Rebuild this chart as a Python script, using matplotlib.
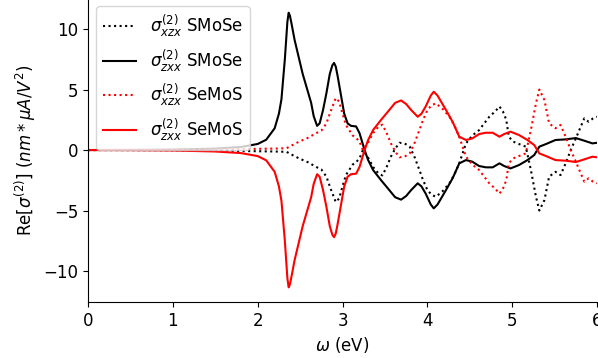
import matplotlib
matplotlib.use('Agg')
import matplotlib.pyplot as plt

# photon energy grids (eV)
x_zxx = [0.0, 0.5, 1.0, 1.5, 1.8, 2.0, 2.1, 2.2, 2.25, 2.28, 2.32, 2.35, 2.365, 2.38,
         2.40, 2.435, 2.53, 2.63, 2.66, 2.70, 2.73, 2.77, 2.81, 2.85, 2.88, 2.90,
         2.92, 2.94, 2.965, 3.02, 3.06, 3.10, 3.16, 3.20, 3.26, 3.30, 3.36, 3.455,
         3.55, 3.62, 3.69, 3.75, 3.81, 3.886, 3.93, 3.98, 4.04, 4.075, 4.12, 4.22,
         4.30, 4.376, 4.455, 4.53, 4.61, 4.69, 4.77, 4.85, 4.905, 4.98, 5.08, 5.18,
         5.26, 5.32, 5.40, 5.51, 5.63, 5.75, 5.85, 5.945, 6.0]
x_xzx = [0.0, 1.0, 1.5, 2.0, 2.2, 2.34, 2.42, 2.49, 2.59, 2.69, 2.75, 2.81, 2.86,
         2.92, 2.96, 3.0, 3.04, 3.12, 3.16, 3.20, 3.24, 3.30, 3.36, 3.42, 3.47,
         3.52, 3.57, 3.62, 3.67, 3.73, 3.79, 3.85, 3.906, 3.95, 4.0, 4.05, 4.10,
         4.18, 4.26, 4.32, 4.376, 4.455, 4.53, 4.61, 4.67, 4.73, 4.80, 4.85, 4.89,
         4.93, 4.96, 5.01, 5.06, 5.16, 5.22, 5.28, 5.32, 5.38, 5.435, 5.51, 5.57,
         5.63, 5.69, 5.75, 5.80, 5.85, 5.90, 5.95, 6.0]

# sigma_zxx SMoSe
zxx_smose = [0, 0.01, 0.04, 0.12, 0.25, 0.5, 0.85, 1.8, 3.0, 4.2, 7.5, 10.6, 11.35,
             11.1, 10.4, 9.1, 6.3, 3.9, 2.8, 2.0, 2.2, 3.3, 4.7, 6.3, 7.0, 7.2, 6.9,
             6.2, 5.2, 3.0, 2.2, 2.0, 1.95, 1.4, 0.0, -0.8, -1.65, -2.5, -3.3, -3.9,
             -4.1, -3.8, -3.3, -2.75, -3.0, -3.6, -4.5, -4.82, -4.5, -3.3, -2.3, -1.1,
             -0.83, -0.96, -1.32, -1.43, -1.43, -1.1, -1.32, -1.52, -1.24, -0.83,
             -0.41, 0.28, 0.5, 0.83, 0.88, 0.99, 0.77, 0.55, 0.6]
# sigma_zxx SeMoS
zxx_semos = [0, -0.01, -0.04, -0.12, -0.25, -0.5, -0.85, -1.8, -3.0, -4.2, -7.5,
             -10.6, -11.35, -11.1, -10.4, -9.1, -6.3, -3.9, -2.8, -2.0, -2.2, -3.3,
             -4.7, -6.3, -7.0, -7.2, -6.9, -6.2, -5.2, -3.0, -2.2, -2.0, -1.95, -1.4,
             0.0, 0.8, 1.65, 2.5, 3.3, 3.9, 4.1, 3.8, 3.3, 2.75, 3.0, 3.6, 4.5, 4.82,
             4.5, 3.3, 2.3, 1.1, 0.83, 0.96, 1.32, 1.43, 1.43, 1.1, 1.32, 1.52, 1.24,
             0.83, 0.41, -0.28, -0.5, -0.83, -0.88, -0.99, -0.77, -0.55, -0.6]
# sigma_xzx SMoSe
xzx_smose = [0, -0.02, -0.05, -0.1, -0.12, -0.15, -0.45, -0.7, -1.0, -1.4, -1.6,
             -2.2, -3.2, -4.3, -4.0, -3.0, -2.07, -1.2, -1.0, -0.7, 0.0, -0.6, -1.4,
             -1.9, -2.1, -1.4, -0.55, 0.1, 0.6, 0.55, 0.3, -0.6, -1.65, -2.5, -3.3,
             -3.7, -3.86, -3.4, -2.75, -2.0, -1.1, 0.55, 1.2, 1.65, 2.2, 2.75, 3.2,
             3.6, 3.2, 2.5, 1.1, 0.7, 0.55, 0.28, -1.65, -3.86, -5.0, -4.13, -2.2,
             -1.8, -2.07, -1.1, 0.0, 0.96, 1.8, 2.62, 2.34, 2.6, 2.75]
# sigma_xzx SeMoS
xzx_semos = [0, 0.02, 0.05, 0.1, 0.12, 0.15, 0.45, 0.7, 1.0, 1.4, 1.6, 2.2, 3.2, 4.3,
             4.0, 3.0, 2.07, 1.2, 1.0, 0.7, 0.0, 0.6, 1.4, 1.9, 2.1, 1.4, 0.55, -0.1,
             -0.6, -0.55, -0.3, 0.6, 1.65, 2.5, 3.3, 3.7, 3.86, 3.4, 2.75, 2.0, 1.1,
             -0.55, -1.2, -1.65, -2.2, -2.75, -3.2, -3.6, -3.2, -2.5, -1.1, -0.7,
             -0.55, -0.28, 1.65, 3.86, 5.0, 4.13, 2.2, 1.8, 2.07, 1.1, 0.0, -0.96,
             -1.8, -2.62, -2.34, -2.6, -2.75]

plt.rcParams['font.size'] = 12
fig = plt.figure(figsize=(5.98, 3.58), dpi=100)
ax = fig.add_axes([0.1472, 0.1564, 0.8512, 0.849])

ax.plot(x_xzx, xzx_smose, 'k:', lw=1.5, label=r'$\sigma^{(2)}_{xzx}$ SMoSe')
ax.plot(x_zxx, zxx_smose, 'k-', lw=1.5, label=r'$\sigma^{(2)}_{zxx}$ SMoSe')
ax.plot(x_xzx, xzx_semos, 'r:', lw=1.5, label=r'$\sigma^{(2)}_{xzx}$ SeMoS')
ax.plot(x_zxx, zxx_semos, 'r-', lw=1.5, label=r'$\sigma^{(2)}_{zxx}$ SeMoS')

ax.set_xlim(0, 6)
ax.set_ylim(-12.56, 12.56)
ax.set_xticks([0, 1, 2, 3, 4, 5, 6])
ax.set_yticks([-10, -5, 0, 5, 10])
ax.spines['top'].set_visible(False)
ax.spines['right'].set_visible(False)
ax.set_xlabel(r'$\omega$ (eV)')
ax.set_ylabel(r'Re[$\sigma^{(2)}$] ($nm*\mu A/V^2$)')
ax.legend(loc='upper left')

fig.savefig('out.png', dpi=100)
